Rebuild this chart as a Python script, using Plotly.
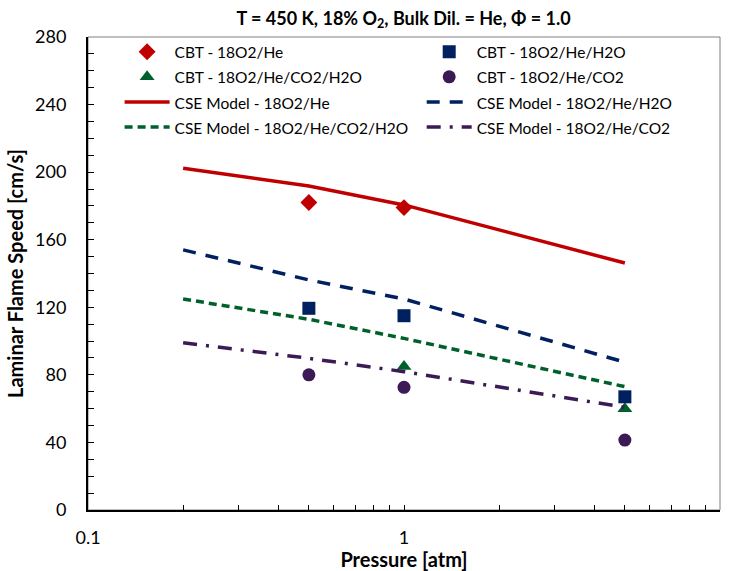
import plotly.graph_objects as go

# Experimental (CBT) data
p_he = [0.5, 1.0]
s_he = [182, 179]
p_h2o = [0.5, 1.0, 5.0]
s_h2o = [119.4, 115, 67]
p_co2h2o = [1.0, 5.0]
s_co2h2o = [85, 60]
p_co2 = [0.5, 1.0, 5.0]
s_co2 = [80, 72.6, 41.4]

# Model (CSE) data
p_model = [0.2, 0.5, 1.0, 5.0]
m_he = [202.3, 191.8, 180.6, 146.2]
m_h2o = [154, 136.2, 124.9, 87.5]
m_co2h2o = [124.9, 112.9, 101.6, 73]
m_co2 = [99, 89.8, 81.9, 60.8]

RED = "#C00000"
NAVY = "#002060"
GREEN = "#00602B"
PURPLE = "#3C1A56"
FONT = "Lato, Open Sans, sans-serif"


def lg(name):
    return '<span style="font-size:15.5px">' + name + "</span>"


fig = go.Figure()
# column 1 of legend
fig.add_trace(go.Scatter(x=p_he, y=s_he, mode="markers", name=lg("CBT - 18O2/He"), legend="legend",
                         marker=dict(symbol="diamond", size=13, color=RED)))
fig.add_trace(go.Scatter(x=p_co2h2o, y=s_co2h2o, mode="markers", name=lg("CBT - 18O2/He/CO2/H2O"),
                         legend="legend",
                         marker=dict(symbol="triangle-up", size=13, color=GREEN)))
fig.add_trace(go.Scatter(x=p_model, y=m_he, mode="lines", name=lg("CSE Model - 18O2/He"), legend="legend",
                         line=dict(color=RED, width=3.5)))
fig.add_trace(go.Scatter(x=p_model, y=m_co2h2o, mode="lines", name=lg("CSE Model - 18O2/He/CO2/H2O"),
                         legend="legend",
                         line=dict(color=GREEN, width=3.5, dash="8px,5px")))
# column 2 of legend
fig.add_trace(go.Scatter(x=p_h2o, y=s_h2o, mode="markers", name=lg("CBT - 18O2/He/H2O"), legend="legend2",
                         marker=dict(symbol="square", size=13, color=NAVY)))
fig.add_trace(go.Scatter(x=p_co2, y=s_co2, mode="markers", name=lg("CBT - 18O2/He/CO2"), legend="legend2",
                         marker=dict(symbol="circle", size=13, color=PURPLE)))
fig.add_trace(go.Scatter(x=p_model, y=m_h2o, mode="lines", name=lg("CSE Model - 18O2/He/H2O"),
                         legend="legend2",
                         line=dict(color=NAVY, width=3.5, dash="13px,10px")))
fig.add_trace(go.Scatter(x=p_model, y=m_co2, mode="lines", name=lg("CSE Model - 18O2/He/CO2"),
                         legend="legend2",
                         line=dict(color=PURPLE, width=3.5, dash="14px,9px,3px,9px")))

leg_common = dict(orientation="v", y=1.006, xanchor="left", yanchor="top",
                  bgcolor="rgba(0,0,0,0)", font=dict(family=FONT, size=17),
                  itemwidth=45, tracegroupgap=0)

fig.update_layout(
    width=729, height=571,
    margin=dict(l=88, r=9, t=37, b=61),
    paper_bgcolor="white", plot_bgcolor="white",
    font=dict(family=FONT, size=15, color="black"),
    title=dict(text="<b>T = 450 K, 18% O<sub>2</sub>, Bulk Dil. = He, Φ = 1.0</b>",
               x=0.5536, xanchor="center", y=0.968, yanchor="middle",
               font=dict(family=FONT, size=18)),
    showlegend=True,
    legend=dict(x=0.05, **leg_common),
    legend2=dict(x=0.528, **leg_common),
    shapes=[dict(type="rect", xref="paper", yref="paper", x0=0, y0=0, x1=1, y1=1,
                 line=dict(color="#7f7f7f", width=1), layer="below")],
)
fig.update_xaxes(type="log", range=[-1, 1], tickvals=[0.1, 1, 10],
                 ticktext=["0.1", "1", "10"], automargin=False,
                 showline=True, linecolor="black", linewidth=2,
                 ticks="inside", ticklen=5, tickwidth=1, tickcolor="black",
                 minor=dict(ticks="inside", ticklen=5, tickwidth=1, tickcolor="black",
                            tickvals=[0.2, 0.3, 0.4, 0.5, 0.6, 0.7, 0.8, 0.9,
                                      2, 3, 4, 5, 6, 7, 8, 9], showgrid=False),
                 showgrid=False, zeroline=False,
                 tickfont=dict(size=18), ticklabelstandoff=10,
                 title=dict(text="<b>Pressure [atm]</b>", font=dict(size=20), standoff=6))
fig.update_yaxes(range=[0, 280], dtick=40, tick0=0, automargin=False,
                 showline=True, linecolor="black", linewidth=2,
                 ticks="inside", ticklen=6, tickwidth=1, tickcolor="black",
                 minor=dict(ticks="inside", ticklen=6, tickwidth=1, tickcolor="black", dtick=10,
                            showgrid=False),
                 showgrid=False, zeroline=False,
                 tickfont=dict(size=18), ticklabelstandoff=16,
                 title=dict(text="<b>Laminar Flame Speed [cm/s]</b>", font=dict(size=20), standoff=6))

fig.write_html("out.html")
